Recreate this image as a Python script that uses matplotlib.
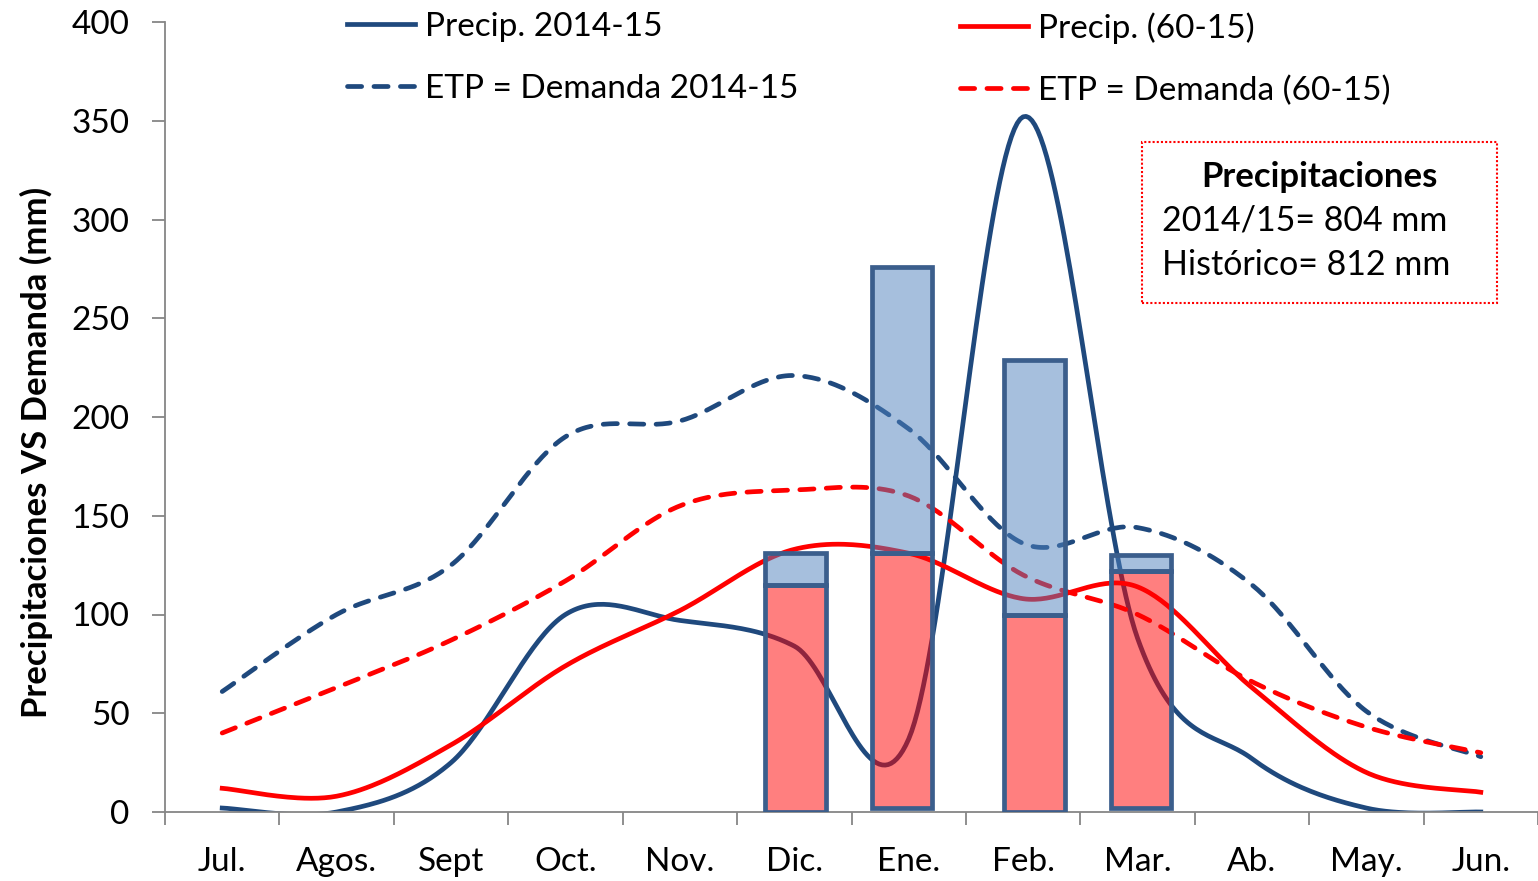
import matplotlib.pyplot as plt
import matplotlib.patches as mpatches
import numpy as np

plt.rcParams['font.family'] = ['Lato', 'DejaVu Sans']

meses = ["Jul.", "Agos.", "Sept", "Oct.", "Nov.", "Dic.", "Ene.", "Feb.", "Mar.", "Ab.", "May.", "Jun."]
precip_1415 = [2, 0, 25, 100, 97, 84, 37, 352, 88, 27, 2, 0]
etp_1415 = [61, 100, 125, 190, 198, 221, 194, 136, 144, 115, 51, 28]
precip_hist = [12, 8, 34, 74, 102, 133, 131, 108, 114, 63, 20, 10]
etp_hist = [40, 63, 87, 117, 155, 163, 160, 120, 100, 66, 43, 30]

# barras apiladas (Dic - Mar), algo desplazadas respecto al mes como en el original
bar_meses = ["Dic.", "Ene.", "Feb.", "Mar."]
bar_desfase = [0.01, -0.06, 0.10, 0.03]
bar_base = [0, 2, 0, 2]
bar_rojo = [115, 131, 100, 122]
bar_azul = [131, 276, 229, 130]

NAVY = "#1F497D"
ROJO = "#FF0000"
BORDE = "#3B5E8C"
GRIS = "#868686"


def suavizar(y, n=40):
    # curva suavizada tipo Excel (bezier con tangentes catmull-rom)
    x = np.arange(len(y), dtype=float)
    y = np.asarray(y, dtype=float)
    P = np.column_stack([x, y])
    ext = np.vstack([P[0], P, P[-1]])
    out = []
    t = np.linspace(0, 1, n)[:, None]
    for i in range(len(P) - 1):
        p0, p3 = ext[i + 1], ext[i + 2]
        b1 = p0 + (ext[i + 2] - ext[i]) / 6
        b2 = p3 - (ext[i + 3] - ext[i + 1]) / 6
        seg = (1 - t) ** 3 * p0 + 3 * (1 - t) ** 2 * t * b1 + 3 * (1 - t) * t ** 2 * b2 + t ** 3 * p3
        out.append(seg if i == 0 else seg[1:])
    c = np.vstack(out)
    return c[:, 0], c[:, 1]


fig = plt.figure(figsize=(15.38, 8.81), dpi=100)
ax = fig.add_axes([165 / 1538, 1 - 812 / 881, 1 - 165 / 1538, (812 - 22) / 881])

lw = 3.4
dash = dict(linestyle=(0, (3.0, 2.6)), dash_capstyle="round")
l1, = ax.plot(*suavizar(precip_1415), color=NAVY, lw=lw, label="Precip. 2014-15", zorder=2)
l2, = ax.plot(*suavizar(etp_1415), color=NAVY, lw=lw, label="ETP = Demanda 2014-15", zorder=2, **dash)
l3, = ax.plot(*suavizar(precip_hist), color=ROJO, lw=lw, label="Precip. (60-15)", zorder=2)
l4, = ax.plot(*suavizar(etp_hist), color=ROJO, lw=lw, label="ETP = Demanda (60-15)", zorder=2, **dash)

xb = [meses.index(m) + d for m, d in zip(bar_meses, bar_desfase)]
alto_rojo = np.array(bar_rojo) - np.array(bar_base)
alto_azul = np.array(bar_azul) - np.array(bar_rojo)
ax.bar(xb, alto_rojo, bottom=bar_base, width=0.53, facecolor=(1, 0, 0, 0.5),
       edgecolor=BORDE, linewidth=3.4, zorder=3)
ax.bar(xb, alto_azul, bottom=bar_rojo, width=0.53, facecolor=(0.31, 0.506, 0.741, 0.5),
       edgecolor=BORDE, linewidth=3.4, zorder=3)

ax.set_xlim(-0.5, 11.5)
ax.set_ylim(0, 400)
ax.set_yticks(range(0, 401, 50))
ax.set_xticks(range(12))
ax.set_xticklabels(meses)
ax.set_xticks(np.arange(-0.5, 12, 1), minor=True)
ax.tick_params(axis="x", which="major", length=0, pad=25, labelsize=24)
ax.tick_params(axis="x", which="minor", length=9.5, width=1.3, color=GRIS)
ax.tick_params(axis="y", length=9.5, width=1.3, color=GRIS, pad=16, labelsize=24)
for s in ["top", "right"]:
    ax.spines[s].set_visible(False)
for s in ["left", "bottom"]:
    ax.spines[s].set_color(GRIS)
    ax.spines[s].set_linewidth(1.3)
ax.set_ylabel("Precipitaciones VS Demanda (mm)", fontsize=25, fontweight="bold", va="center")
ax.yaxis.set_label_coords((36 - 165) / 1373, (812 - 452) / 790)

leg_kw = dict(frameon=False, fontsize=24, handlelength=2.05, handletextpad=0.28,
              labelspacing=0.95, borderpad=0, borderaxespad=0, loc="upper left")
leg1 = fig.legend(handles=[l1, l2], bbox_to_anchor=(347 / 1538, 1 - 12 / 881), **leg_kw)
leg2 = fig.legend(handles=[l3, l4], bbox_to_anchor=(960 / 1538, 1 - 12 / 881), **leg_kw)

caja = mpatches.Rectangle((1142 / 1538, 1 - 303 / 881), (1497 - 1142) / 1538, (303 - 142) / 881,
                          transform=fig.transFigure, fill=False, edgecolor=ROJO,
                          linestyle=(0, (1, 1)), linewidth=1.5)
fig.add_artist(caja)
fig.text(1319 / 1538, 1 - 177 / 881, "Precipitaciones", ha="center", va="center",
         fontsize=25, fontweight="bold")
fig.text(1162 / 1538, 1 - 221 / 881, "2014/15= 804 mm", ha="left", va="center", fontsize=24.5)
fig.text(1162 / 1538, 1 - 265 / 881, "Histórico= 812 mm", ha="left", va="center", fontsize=24.5)

fig.savefig("out.png", dpi=100)
